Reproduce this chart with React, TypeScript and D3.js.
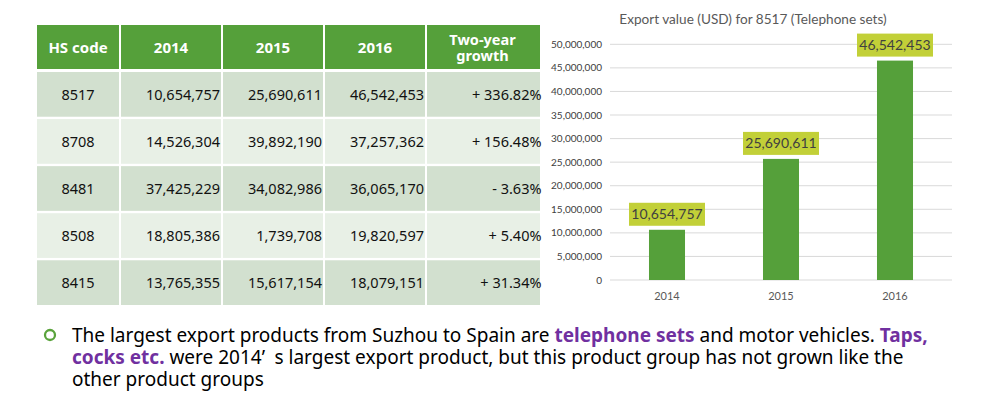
import React from 'react';
import * as d3 from 'd3';

// ---- Table data ----
const headers = ['HS code', '2014', '2015', '2016', 'Two-year growth'];
const hsCodes = ['8517', '8708', '8481', '8508', '8415'];
const values2014 = [10654757, 14526304, 37425229, 18805386, 13765355];
const values2015 = [25690611, 39892190, 34082986, 1739708, 15617154];
const values2016 = [46542453, 37257362, 36065170, 19820597, 18079151];
const growthLabels = ['+ 336.82%', '+ 156.48%', '- 3.63%', '+ 5.40%', '+ 31.34%'];

// ---- Chart data ----
const chartTitle = 'Export value (USD) for 8517 (Telephone sets)';
const chartYears = ['2014', '2015', '2016'];
const chartValues = [10654757, 25690611, 46542453];
const yTicks = [0, 5000000, 10000000, 15000000, 20000000, 25000000, 30000000, 35000000, 40000000, 45000000, 50000000];

const fmt = d3.format(',');

const GREEN = '#55A03A';
const ROW_DARK = '#D2E0CF';
const ROW_LIGHT = '#E8F0E6';
const LABEL_BG = '#C2D038';
const PURPLE = '#7030A0';
const TABLE_FONT = '"Noto Sans", "Open Sans", sans-serif';
const CHART_FONT = 'Lato, "Noto Sans", sans-serif';

export default function App() {
  // table layout
  const colWidths = [82, 100, 100, 100, 113];
  const colGap = 2;
  const tableX0 = 37;
  const colX: number[] = [];
  let acc = tableX0;
  colWidths.forEach((w) => {
    colX.push(acc);
    acc += w + colGap;
  });
  const headerY = 25;
  const headerH = 44;
  const rowY = d3
    .scaleBand<number>()
    .domain(d3.range(hsCodes.length))
    .range([72, 305])
    .paddingInner(0.05);

  const rows = hsCodes.map((code, i) => [
    code,
    fmt(values2014[i]),
    fmt(values2015[i]),
    fmt(values2016[i]),
    growthLabels[i],
  ]);

  // chart scales
  const x = d3
    .scaleBand<string>()
    .domain(chartYears)
    .range([610, 952])
    .paddingInner(0.684)
    .paddingOuter(0.342);
  const y = d3.scaleLinear().domain([0, 50000000]).range([280, 44.3]);

  const [growthL1, growthL2] = ['Two-year', 'growth'];

  return (
    <svg
      width={998}
      height={412}
      style={{ position: 'absolute', left: 0, top: 0, background: '#fff' }}
    >
      <rect x={0} y={0} width={998} height={412} fill="#fff" />
      {/* Table header */}
      {headers.map((h, c) => (
        <g key={'h' + c}>
          <rect x={colX[c]} y={headerY} width={colWidths[c]} height={headerH} fill={GREEN} />
          {c === 4 ? (
            <g fill="#fff" fontFamily={TABLE_FONT} fontWeight="bold" fontSize={14.5} textAnchor="middle">
              <text x={colX[c] + colWidths[c] / 2 - 1} y={44.5}>{growthL1}</text>
              <text x={colX[c] + colWidths[c] / 2 - 1} y={60.5}>{growthL2}</text>
            </g>
          ) : (
            <text
              x={colX[c] + colWidths[c] / 2}
              y={headerY + headerH / 2 + 5.5}
              textAnchor="middle"
              fill="#fff"
              fontFamily={TABLE_FONT}
              fontWeight="bold"
              fontSize={15}
            >
              {h}
            </text>
          )}
        </g>
      ))}
      {/* Table rows */}
      {rows.map((row, r) => (
        <g key={'r' + r}>
          {row.map((cell, c) => {
            const ry = rowY(r) as number;
            const rh = rowY.bandwidth();
            return (
              <g key={c}>
                <rect
                  x={colX[c]}
                  y={ry}
                  width={colWidths[c]}
                  height={rh}
                  fill={r % 2 === 0 ? ROW_DARK : ROW_LIGHT}
                />
                <text
                  x={c === 0 ? colX[c] + colWidths[c] / 2 : c === 4 ? colX[c] + colWidths[c] + 1.5 : colX[c] + colWidths[c] - 1}
                  y={ry + rh / 2 + 5.3}
                  textAnchor={c === 0 ? 'middle' : 'end'}
                  fill="#111"
                  fontFamily={TABLE_FONT}
                  fontSize={14.5}
                >
                  {cell}
                </text>
              </g>
            );
          })}
        </g>
      ))}

      {/* Chart */}
      <text
        x={753}
        y={24}
        textAnchor="middle"
        fill="#595959"
        fontFamily={CHART_FONT}
        fontSize={13.6}
      >
        {chartTitle}
      </text>
      {yTicks.map((t) => (
        <g key={'t' + t}>
          <line x1={610} x2={952} y1={y(t)} y2={y(t)} stroke="#D9D9D9" strokeWidth={1} />
          <text
            x={602}
            y={y(t)}
            dy="0.35em"
            textAnchor="end"
            fill="#404040"
            fontFamily={CHART_FONT}
            fontSize={10}
          >
            {fmt(t)}
          </text>
        </g>
      ))}
      {chartYears.map((yr, i) => {
        const bx = x(yr) as number;
        const bw = x.bandwidth();
        const cx = bx + bw / 2;
        const top = y(chartValues[i]);
        const boxW = 76;
        const boxH = 23;
        const boxY = top - 4 - boxH;
        return (
          <g key={'b' + yr}>
            <rect x={bx} y={top} width={bw} height={y(0) - top} fill={GREEN} />
            <rect x={cx - boxW / 2} y={boxY} width={boxW} height={boxH} fill={LABEL_BG} />
            <text
              x={cx}
              y={boxY + boxH / 2}
              dy="0.36em"
              textAnchor="middle"
              fill="#404040"
              fontFamily={CHART_FONT}
              fontSize={14}
            >
              {fmt(chartValues[i])}
            </text>
            <text
              x={cx}
              y={300}
              textAnchor="middle"
              fill="#595959"
              fontFamily={CHART_FONT}
              fontSize={11}
            >
              {yr}
            </text>
          </g>
        );
      })}

      {/* Bottom commentary */}
      <circle cx={50} cy={335} r={5} fill="none" stroke="#5AA33C" strokeWidth={2.3} />
      <g fontFamily={TABLE_FONT} fontSize={19} fill="#000">
        <text x={72} y={342}>
          <tspan>The largest export products from Suzhou to Spain are </tspan>
          <tspan fill={PURPLE} fontWeight="bold">telephone sets</tspan>
          <tspan> and motor vehicles. </tspan>
          <tspan fill={PURPLE} fontWeight="bold">Taps,</tspan>
        </text>
        <text x={72} y={364}>
          <tspan fill={PURPLE} fontWeight="bold">cocks etc.</tspan>
          <tspan> were 2014{'\u2019\u2002'}s largest export product, but this product group has not grown like the</tspan>
        </text>
        <text x={72} y={386}>other product groups</text>
      </g>
    </svg>
  );
}
